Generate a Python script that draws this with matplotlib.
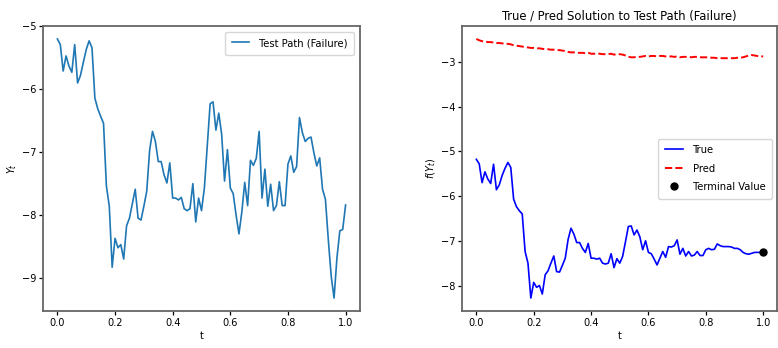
import numpy as np
import matplotlib
matplotlib.use("Agg")
import matplotlib.pyplot as plt

plt.rcParams['font.family'] = ['DejaVu Sans']
plt.rcParams['font.stretch'] = 'condensed'
plt.rcParams['font.size'] = 7.8

# time grid
t = np.linspace(0, 1, 101)

# test path Y_t
path = [-5.20, -5.29, -5.71, -5.47, -5.63, -5.73, -5.29, -5.90, -5.78, -5.57,
        -5.37, -5.23, -5.34, -6.14, -6.31, -6.43, -6.54, -7.54, -7.86, -8.83,
        -8.37, -8.52, -8.47, -8.70, -8.17, -8.05, -7.82, -7.59, -8.05, -8.08,
        -7.86, -7.62, -6.97, -6.67, -6.83, -7.15, -7.15, -7.36, -7.49, -7.17,
        -7.73, -7.73, -7.76, -7.72, -7.90, -7.93, -7.90, -7.50, -8.11, -7.73,
        -7.93, -7.57, -6.90, -6.23, -6.20, -6.65, -6.38, -6.72, -7.46, -6.96,
        -7.57, -7.66, -8.00, -8.30, -7.95, -7.48, -7.85, -7.13, -7.21, -7.10,
        -6.67, -7.73, -7.27, -7.86, -7.51, -7.93, -7.85, -7.47, -7.85, -7.85,
        -7.19, -7.06, -7.32, -7.23, -6.45, -6.69, -6.83, -6.78, -6.76, -7.01,
        -7.22, -7.09, -7.59, -7.75, -8.39, -8.97, -9.32, -8.68, -8.25, -8.23,
        -7.84]

# true solution f(Y_t)
true_sol = [-5.18, -5.28, -5.70, -5.46, -5.62, -5.72, -5.29, -5.86, -5.75, -5.54,
            -5.38, -5.25, -5.36, -6.07, -6.24, -6.33, -6.40, -7.24, -7.50, -8.28,
            -7.93, -8.04, -8.00, -8.19, -7.76, -7.67, -7.50, -7.34, -7.69, -7.70,
            -7.55, -7.39, -6.97, -6.72, -6.85, -7.04, -7.04, -7.17, -7.26, -7.06,
            -7.39, -7.39, -7.41, -7.39, -7.50, -7.52, -7.50, -7.29, -7.60, -7.40,
            -7.50, -7.35, -7.02, -6.68, -6.67, -6.87, -6.76, -6.91, -7.20, -7.00,
            -7.26, -7.29, -7.41, -7.54, -7.39, -7.24, -7.37, -7.13, -7.14, -7.11,
            -6.98, -7.30, -7.17, -7.34, -7.24, -7.34, -7.32, -7.24, -7.33, -7.33,
            -7.20, -7.17, -7.20, -7.19, -7.07, -7.11, -7.13, -7.13, -7.13, -7.14,
            -7.17, -7.17, -7.20, -7.26, -7.29, -7.30, -7.28, -7.26, -7.26, -7.26,
            -7.26]

# predicted solution
pred_sol = [-2.49, -2.52, -2.54, -2.55, -2.56, -2.56, -2.57, -2.58, -2.58, -2.59,
            -2.59, -2.60, -2.61, -2.63, -2.64, -2.65, -2.66, -2.67, -2.68, -2.69,
            -2.69, -2.70, -2.70, -2.71, -2.72, -2.72, -2.73, -2.73, -2.74, -2.74,
            -2.75, -2.76, -2.78, -2.79, -2.79, -2.80, -2.80, -2.80, -2.81, -2.80,
            -2.82, -2.82, -2.82, -2.82, -2.83, -2.83, -2.83, -2.82, -2.84, -2.83,
            -2.83, -2.84, -2.86, -2.89, -2.90, -2.90, -2.89, -2.89, -2.88, -2.87,
            -2.88, -2.87, -2.87, -2.88, -2.87, -2.87, -2.88, -2.88, -2.88, -2.89,
            -2.88, -2.90, -2.89, -2.89, -2.89, -2.90, -2.89, -2.89, -2.90, -2.90,
            -2.90, -2.90, -2.91, -2.91, -2.92, -2.92, -2.92, -2.92, -2.92, -2.92,
            -2.92, -2.91, -2.91, -2.90, -2.88, -2.86, -2.85, -2.86, -2.87, -2.88,
            -2.88]

terminal_t = [1.0]
terminal_val = [-7.26]

fig = plt.figure(figsize=(7.78, 3.48), dpi=100)
ax1 = fig.add_axes([43 / 778, 37 / 348, 317 / 778, 285 / 348])
ax2 = fig.add_axes([462 / 778, 37 / 348, 315.5 / 778, 285 / 348])

for ax in (ax1, ax2):
    for s in ax.spines.values():
        s.set_color('0.4')
        s.set_linewidth(1.3)
    ax.tick_params(length=3, width=0.9, pad=2, labelsize=7.8)

leg_kw = dict(handlelength=1.6, handletextpad=0.9, fontsize=8.0,
              borderpad=0.6, labelspacing=0.75)

# left: the test path
ax1.plot(t, path, color='tab:blue', lw=1.2, label='Test Path (Failure)')
ax1.set_xlabel('t', labelpad=2)
ax1.set_ylabel('$Y_t$', labelpad=2)
ax1.set_yticks([-9, -8, -7, -6, -5])
ax1.legend(loc='upper right', **leg_kw)

# right: true vs pred
ax2.plot(t, true_sol, 'b-', lw=1.2, label='True')
ax2.plot(t, pred_sol, 'r--', lw=1.4, label='Pred')
ax2.plot(terminal_t, terminal_val, 'ko', ms=5, label='Terminal Value')
ax2.set_xlabel('t', labelpad=2)
ax2.set_ylabel('$f(Y_t)$', labelpad=2)
ax2.set_title('True / Pred Solution to Test Path (Failure)', fontsize=9.3, pad=5)
ax2.legend(loc='center right', **leg_kw)

fig.savefig('out.png', dpi=100)
